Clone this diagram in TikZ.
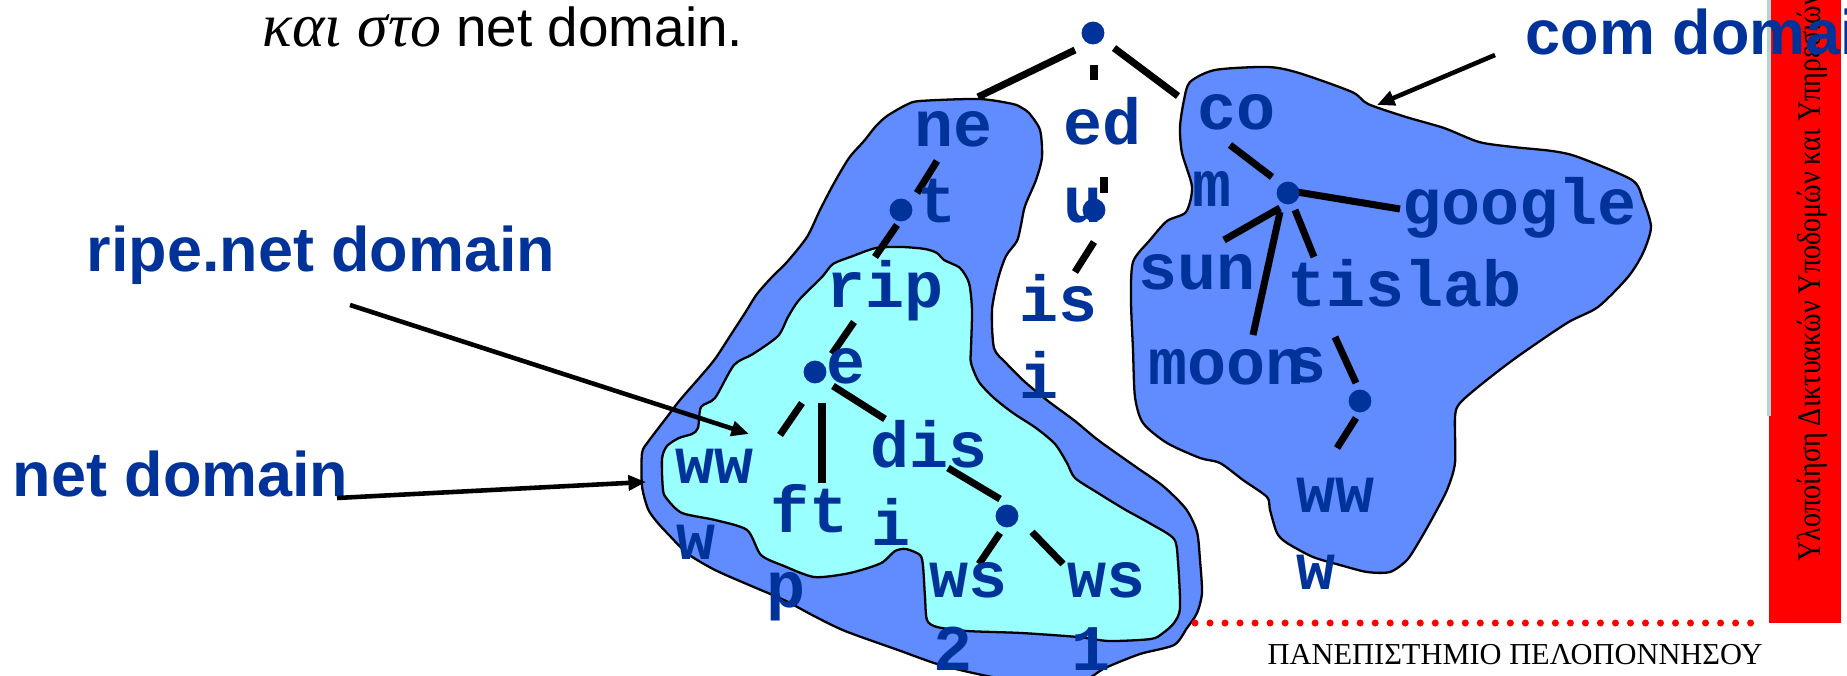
\documentclass[tikz,border=0pt]{standalone}
\usepackage{fontspec}
\usetikzlibrary{arrows.meta}
\newfontfamily\treefont{Liberation Mono}
\newfontfamily\domfont{Liberation Sans}
\newfontfamily\greekfont{Liberation Serif}
\newfontfamily\sidefont{Liberation Serif}[FakeStretch=0.85]
\definecolor{domblue}{RGB}{96,140,255}
\definecolor{ripecyan}{RGB}{153,255,255}
\definecolor{nameblue}{RGB}{0,51,153}
\definecolor{stripgray}{RGB}{176,214,208}
\tikzset{
x=0.01cm, y=-0.01cm, % one unit is one pixel of the slide, y grows downwards
hostname/.style={anchor=base west, inner sep=0pt, text=nameblue, font=\treefont\bfseries\fontsize{18.5}{18.5}\selectfont}, % the names in the tree
domtext/.style={anchor=base west, inner sep=0pt, text=nameblue, font=\domfont\bfseries\fontsize{17.9}{17.9}\selectfont}, % domain captions
hostdot/.style={circle, fill=nameblue, inner sep=0pt, minimum size=6.5pt},
branch/.style={line width=2pt},
pointer/.style={line width=1.3pt, -{Triangle[length=5pt,width=4.2pt]}},
blob/.style={draw=black, line width=0.65pt, line join=round},
}

\begin{document}
\begin{tikzpicture}
    \useasboundingbox (0,0) rectangle (1847,676);

    %% net domain, with ripe.net inside it
    \draw[blob, fill=domblue] plot[smooth cycle, tension=0.45] coordinates {
        (906,105) (920,101) (979,99) (1013,104) (1022,108) (1029,113) (1040,130) (1042,157)
        (1036,180) (1025,206) (1021,225) (1017,241) (1006,256) (998,279) (992,310) (994,348)
        (1006,363) (1025,382) (1048,401) (1075,421) (1098,440) (1136,467) (1163,486) (1186,509)
        (1197,532) (1200,560) (1202,593) (1197,613) (1187,628) (1174,645) (1140,654) (1105,668)
        (1078,682) (1010,680) (944,666) (898,650) (845,631) (814,616) (784,600) (749,585)
        (715,570) (688,554) (669,535) (657,522) (648,509) (642,486) (642,453) (648,442)
        (657,430) (667,417) (680,400) (700,377) (715,359) (732,333) (745,313) (757,294)
        (772,277) (787,262) (807,237) (820,210) (833,185) (849,158) (864,141) (876,126) (887,116)};
    \draw[blob, fill=ripecyan] plot[smooth cycle, tension=0.45] coordinates {
        (833,264) (853,256) (876,248) (902,247) (925,249) (937,253) (944,260) (960,268)
        (969,283) (972,310) (971,348) (971,363) (979,382) (994,398) (1013,413) (1036,428)
        (1055,444) (1067,463) (1075,478) (1098,493) (1124,509) (1151,524) (1174,539) (1178,562)
        (1180,608) (1174,623) (1163,633) (1151,639) (1109,641) (1078,637) (1021,633) (967,631)
        (937,627) (927,620) (925,597) (923,566) (920,555) (906,549) (895,551) (883,562)
        (868,568) (845,574) (814,577) (784,566) (761,555) (747,530) (715,520) (682,513)
        (667,499) (663,490) (662,459) (667,446) (679,438) (692,434) (698,428) (701,407)
        (715,398) (734,365) (753,354) (778,336) (788,317) (799,300) (822,277)};
    %% com domain
    \draw[blob, fill=domblue] plot[smooth cycle, tension=0.45] coordinates {
        (1190,82) (1215,70) (1268,67) (1299,73) (1352,92) (1368,104) (1406,117) (1444,128)
        (1479,142) (1513,147) (1552,151) (1578,157) (1632,180) (1643,200) (1651,227) (1643,253)
        (1628,277) (1598,307) (1567,323) (1517,357) (1483,383) (1460,403) (1455,417) (1455,463)
        (1447,490) (1433,517) (1420,540) (1407,560) (1390,572) (1367,572) (1340,565) (1313,557)
        (1287,543) (1277,533) (1270,510) (1267,497) (1243,480) (1220,463) (1200,458) (1167,443)
        (1143,423) (1135,397) (1133,350) (1131,300) (1133,262) (1150,240) (1167,221) (1186,212)
        (1192,187) (1182,153) (1180,127) (1184,100)};

    %% red side bar and the dotted rule at the bottom
    \fill[red] (1769,0) rectangle (1841,623);
    \fill[stripgray] (1767,0) rectangle (1771,416);
    \draw[red, line width=2pt, line cap=round, dash pattern=on 0pt off 4.27pt] (1195,623) -- (1763,623);
    \node[rotate=90, anchor=base west, inner sep=0pt, font=\sidefont\fontsize{9.4}{9.4}\selectfont] (course) at (1820,562) {Υλοποίηση Δικτυακών Υποδομών και Υπηρεσιών};
    \node[anchor=base west, inner sep=0pt, font=\greekfont\fontsize{8.65}{8.65}\selectfont] (univ) at (1267,665) {ΠΑΝΕΠΙΣΤΗΜΙΟ ΠΕΛΟΠΟΝΝΗΣΟΥ};

    %% end points of the branches
    \coordinate (root-a) at (1075,50);   \coordinate (root-b) at (978,97);
    \coordinate (root-c) at (1094,65);   \coordinate (root-d) at (1094,80);
    \coordinate (root-e) at (1114,48);   \coordinate (root-f) at (1178,96);
    \coordinate (net-a) at (937,161);    \coordinate (net-b) at (917,193);
    \coordinate (net-c) at (897,225);    \coordinate (net-d) at (875,257);
    \coordinate (ripe-a) at (854,322);   \coordinate (ripe-b) at (832,354);
    \coordinate (ripe-c) at (802,403);   \coordinate (ripe-d) at (780,435);
    \coordinate (ripe-e) at (822,403);   \coordinate (ripe-f) at (822,483);
    \coordinate (ripe-g) at (833,386);   \coordinate (ripe-h) at (885,419);
    \coordinate (dis-a) at (948,468);    \coordinate (dis-b) at (1000,499);
    \coordinate (dis-c) at (1000,533);   \coordinate (dis-d) at (979,564);
    \coordinate (dis-e) at (1032,532);   \coordinate (dis-f) at (1063,564);
    \coordinate (edu-a) at (1104,177);   \coordinate (edu-b) at (1104,193);
    \coordinate (edu-c) at (1094,242);   \coordinate (edu-d) at (1075,272);
    \coordinate (com-a) at (1230,145);   \coordinate (com-b) at (1272,177);
    \coordinate (com-c) at (1297,192);   \coordinate (com-d) at (1400,209);
    \coordinate (com-e) at (1280,208);   \coordinate (com-f) at (1224,240);
    \coordinate (com-g) at (1280,212);   \coordinate (com-h) at (1253,335);
    \coordinate (com-i) at (1295,210);   \coordinate (com-j) at (1314,257);
    \coordinate (tis-a) at (1335,337);   \coordinate (tis-b) at (1356,383);
    \coordinate (tis-c) at (1356,418);   \coordinate (tis-d) at (1337,448);

    \draw[branch] (root-a) -- (root-b);
    \draw[branch] (root-c) -- (root-d);
    \draw[branch] (root-e) -- (root-f);
    \draw[branch] (net-a) -- (net-b);
    \draw[branch] (net-c) -- (net-d);
    \draw[branch] (ripe-a) -- (ripe-b);
    \draw[branch] (ripe-c) -- (ripe-d);
    \draw[branch] (ripe-e) -- (ripe-f);
    \draw[branch] (ripe-g) -- (ripe-h);
    \draw[branch] (dis-a) -- (dis-b);
    \draw[branch] (dis-c) -- (dis-d);
    \draw[branch] (dis-e) -- (dis-f);
    \draw[branch] (edu-a) -- (edu-b);
    \draw[branch] (edu-c) -- (edu-d);
    \draw[branch] (com-a) -- (com-b);
    \draw[branch] (com-c) -- (com-d);
    \draw[branch] (com-e) -- (com-f);
    \draw[branch] (com-g) -- (com-h);
    \draw[branch] (com-i) -- (com-j);
    \draw[branch] (tis-a) -- (tis-b);
    \draw[branch] (tis-c) -- (tis-d);

    %% the tree: dots and names
    \node[hostdot] (rootdot) at (1093,33) {};
    \node[hostname] (ne1) at (914,147) {ne};
    \node[hostname] (ne2) at (917,223) {t};
    \node[hostdot] (netdot) at (901,210) {};
    \node[hostname] (rip1) at (826,308) {rip};
    \node[hostname] (rip2) at (826,384) {e};
    \node[hostdot] (ripedot) at (815,372) {};
    \node[hostname] (www1) at (675,484) {ww};
    \node[hostname] (www2) at (676,560) {w};
    \node[hostname] (ftp1) at (770,533) {ft};
    \node[hostname] (ftp2) at (766,608) {p};
    \node[hostname] (dis1) at (870,468) {dis};
    \node[hostname] (dis2) at (871,545) {i};
    \node[hostdot] (disdot) at (1007,516) {};
    \node[hostname] (wsa1) at (929,597) {ws};
    \node[hostname] (wsa2) at (933,671) {2};
    \node[hostname] (wsb1) at (1067,597) {ws};
    \node[hostname] (wsb2) at (1071,671) {1};
    \node[hostname] (edu1) at (1063,145) {ed};
    \node[hostname] (edu2) at (1063,223) {u};
    \node[hostdot] (edudot) at (1094,210) {};
    \node[hostname] (isi1) at (1019,322) {is};
    \node[hostname] (isi2) at (1019,399) {i};
    \node[hostname] (com1) at (1197,130) {co};
    \node[hostname] (com2) at (1192,207) {m};
    \node[hostdot] (comdot) at (1288,193) {};
    \node[hostname] (google) at (1402,225) {google};
    \node[hostname] (sun) at (1138,290) {sun};
    \node[hostname] (tislab) at (1287,307) {tislab};
    \node[hostname] (moon1) at (1148,385) {moon};
    \node[hostname] (moon2) at (1287,383) {s};
    \node[hostdot] (tisdot) at (1360,401) {};
    \node[hostname] (wwwc1) at (1296,513) {ww};
    \node[hostname] (wwwc2) at (1296,590) {w};

    %% captions and their arrows
    \node[anchor=base west, inner sep=0pt, font=\domfont\fontsize{15.6}{15.6}\selectfont] (subtitle) at (262,47) {{\greekfont\itshape\fontsize{17.6}{17.6}\selectfont και στο} net domain.};
    \node[domtext] (ripelabel) at (86,272) {ripe.net domain};
    \node[domtext] (netlabel) at (12,497) {net domain};
    \node[domtext] (comlabel) at (1525,55) {com domain};
    \coordinate (ripetail) at (350,305);  \coordinate (ripetip) at (749,434);
    \coordinate (nettail) at (337,498);   \coordinate (nettip) at (646,482);
    \coordinate (comtail) at (1495,55);   \coordinate (comtip) at (1377,105);
    \draw[pointer] (ripetail) -- (ripetip);
    \draw[pointer] (nettail) -- (nettip);
    \draw[pointer] (comtail) -- (comtip);
\end{tikzpicture}
\end{document}
